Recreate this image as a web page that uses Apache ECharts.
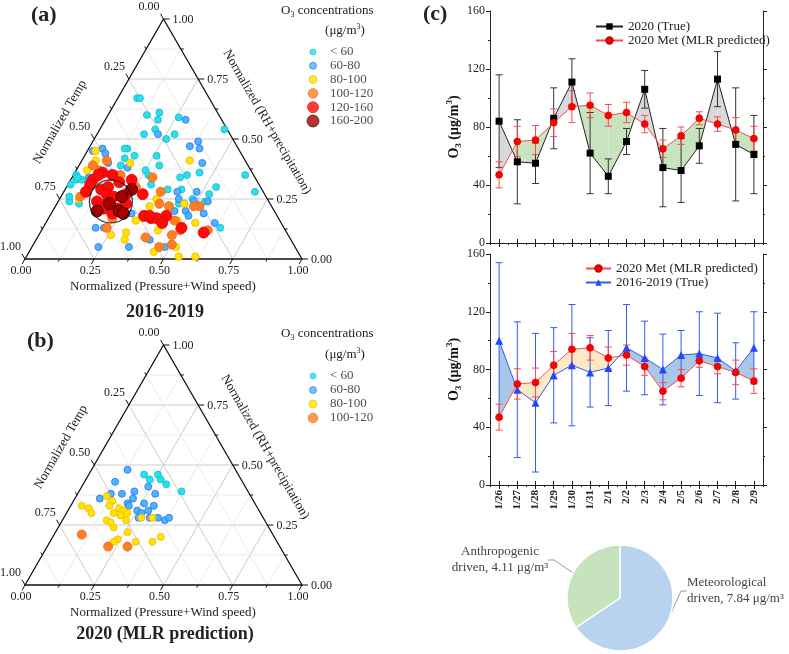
<!DOCTYPE html>
<html>
<head>
<meta charset="utf-8">
<script src="https://cdn.jsdelivr.net/npm/echarts@6/dist/echarts.min.js"></script>
<style>
html, body { margin: 0; padding: 0; background: #fff; }
#main { width: 789px; height: 654px; }
</style>
</head>
<body>
<div id="main"></div>
<script>
// ---------- data ----------
var classNamesA = ['< 60', '60-80', '80-100', '100-120', '120-160', '160-200'];
var classNamesB = ['< 60', '60-80', '80-100', '100-120'];
var ternaryTicks = ['0.00', '0.25', '0.50', '0.75', '1.00'];

// ternary points as [Pressure+Wind speed, RH+precipitation]; Temp = 1 - both
var a_lt60 = [[0.07,0.67],[0.08,0.67],[0.18,0.61],[0.19,0.58],[0.14,0.60],[0.26,0.59],[0.20,0.54],[0.17,0.52],[0.28,0.52],[0.26,0.50],[0.45,0.54],[0.26,0.43],[0.29,0.39],[0.25,0.37],[0.30,0.31],[0.39,0.34],[0.41,0.35],[0.45,0.36],[0.42,0.29],[0.37,0.29],[0.54,0.30],[0.53,0.27],[0.53,0.24],[0.62,0.35],[0.69,0.28],[0.44,0.23],[0.48,0.25],[0.64,0.13],[0.14,0.46],[0.13,0.46],[0.02,0.33],[0.01,0.35],[0.04,0.33],[0.04,0.24],[0.03,0.26],[0.08,0.23],[0.15,0.39],[0.15,0.42],[0.18,0.43],[0.27,0.35],[0.01,0.31],[0.02,0.34]];
var a_60_80 = [[0.29,0.58],[0.38,0.49],[0.36,0.47],[0.40,0.46],[0.44,0.40],[0.41,0.28],[0.48,0.28],[0.49,0.24],[0.46,0.23],[0.44,0.20],[0.48,0.20],[0.50,0.18],[0.55,0.19],[0.61,0.15],[0.54,0.24],[0.41,0.08],[0.48,0.05],[0.02,0.45],[0.05,0.46],[0.07,0.44],[0.10,0.40],[0.06,0.34],[0.18,0.38],[0.29,0.19],[0.22,0.13],[0.35,0.05],[0.24,0.05],[0.22,0.52],[0.43,0.25],[0.19,0.13]];
var a_80_100 = [[0.39,0.41],[0.35,0.25],[0.46,0.23],[0.34,0.17],[0.47,0.16],[0.42,0.12],[0.54,0.15],[0.45,0.03],[0.52,0.05],[0.61,0.01],[0.55,0.01],[0.04,0.37],[0.05,0.41],[0.18,0.40],[0.32,0.16],[0.31,0.11],[0.32,0.08],[0.26,0.10],[0.34,0.22],[0.07,0.25],[0.03,0.45]];
var a_100_120 = [[0.29,0.34],[0.35,0.28],[0.37,0.23],[0.41,0.22],[0.52,0.22],[0.46,0.16],[0.50,0.12],[0.48,0.10],[0.39,0.09],[0.50,0.06],[0.46,0.05],[0.60,0.12],[0.08,0.37],[0.15,0.35],[0.17,0.35],[0.23,0.13],[0.23,0.17],[0.07,0.26],[0.25,0.30],[0.50,0.22],[0.05,0.39],[0.09,0.41]];
var a_120_160 = [[0.29,0.27],[0.37,0.17],[0.39,0.17],[0.42,0.18],[0.42,0.15],[0.50,0.13],[0.59,0.11],[0.10,0.36],[0.14,0.35],[0.08,0.33],[0.08,0.31],[0.08,0.28],[0.13,0.29],[0.15,0.30],[0.18,0.32],[0.22,0.33],[0.23,0.27],[0.14,0.24],[0.18,0.21],[0.23,0.21],[0.25,0.23],[0.34,0.18],[0.36,0.18],[0.22,0.19],[0.16,0.27],[0.09,0.35],[0.19,0.26],[0.18,0.24]];
var a_160_200 = [[0.24,0.29],[0.22,0.26],[0.19,0.23],[0.16,0.20],[0.24,0.20],[0.26,0.19]];
var clusterCenter = [0.19, 0.24];

var b_lt60 = [[0.20,0.46],[0.25,0.46],[0.23,0.44],[0.27,0.44],[0.30,0.42],[0.37,0.39]];
var b_60_80 = [[0.13,0.48],[0.24,0.41],[0.11,0.43],[0.12,0.38],[0.16,0.38],[0.20,0.39],[0.09,0.36],[0.21,0.36],[0.26,0.34],[0.28,0.38],[0.20,0.34],[0.21,0.33],[0.30,0.33],[0.25,0.31],[0.29,0.31],[0.27,0.30],[0.27,0.28],[0.31,0.28],[0.34,0.28],[0.37,0.27],[0.38,0.28]];
var b_80_100 = [[0.04,0.33],[0.07,0.32],[0.09,0.30],[0.11,0.37],[0.14,0.35],[0.14,0.33],[0.18,0.32],[0.20,0.31],[0.17,0.30],[0.20,0.29],[0.22,0.30],[0.23,0.27],[0.28,0.28],[0.32,0.28],[0.16,0.27],[0.18,0.26],[0.20,0.24],[0.26,0.22],[0.24,0.19],[0.23,0.18],[0.31,0.18],[0.37,0.18],[0.39,0.20]];
var b_100_120 = [[0.10,0.21],[0.22,0.16],[0.29,0.16]];

var dates = ['1/26','1/27','1/28','1/29','1/30','1/31','2/1','2/2','2/3','2/4','2/5','2/6','2/7','2/8','2/9'];
var true2020 = [84, 56, 55, 86, 111, 62, 46, 70, 106, 52, 50, 67, 113, 68, 61];
var true2020Err = [32, 29, 14, 21, 16, 28, 12, 9, 13, 27, 22, 12, 19, 39, 27];
var met2020 = [47, 70, 71, 83, 94, 95, 88, 90, 82, 65, 74, 86, 82, 78, 72];
var met2020Err = [9, 10.5, 10, 9.5, 11, 8.5, 7.5, 7, 6, 6, 6, 4.5, 5, 8.5, 8.5];
var true1619 = [100, 66, 57, 76, 83, 78, 81, 95, 88, 80, 90, 91, 88, 79, 95];
var true1619Err = [54, 47, 48, 33, 42, 24, 26, 30, 25.5, 24.5, 17, 29, 31, 19.5, 25];

var pieNames = ['Meteorological', 'Anthropogenic'];
var pieValues = [7.84, 4.11];

// ---------- styles ----------
var serif = 'Liberation Serif, Times New Roman, serif';
var fills = ['#27e0e8', '#4db3ff', '#ffe400', '#ff7f24', '#ff0a0a', '#a80000'];
var edges = ['#19b8d8', '#2a72e8', '#f5b400', '#e8620f', '#e00000', '#1a0000'];
var sizesA = [7, 7, 7.5, 9, 11, 12];
var sizesB = [7, 7, 7, 9];
var legSizes = [6, 7, 8, 9.5, 11, 12];

var chart = echarts.init(document.getElementById('main'));

function toXY(p) { return [p[0] + p[1] / 2, p[1]]; }

function ternaryFrame(params, api) {
    var pt = function (P, R) { return api.coord([P + R / 2, R]); };
    var kids = [];
    var line = function (a, b, color, w) {
        kids.push({ type: 'line', shape: { x1: a[0], y1: a[1], x2: b[0], y2: b[1] }, style: { stroke: color, lineWidth: w } });
    };
    var text = function (s, x, y, align) {
        kids.push({ type: 'text', style: { text: s, x: x, y: y, align: align, textAlign: align, verticalAlign: 'middle', textVerticalAlign: 'middle', font: '12px ' + serif, fill: '#222' } });
    };
    var k, v;
    for (k = 1; k < 8; k++) {
        v = k / 8;
        var c = k % 2 ? '#ececec' : '#cccccc';
        line(pt(0, v), pt(1 - v, v), c, 1);
        line(pt(v, 0), pt(v, 1 - v), c, 1);
        line(pt(1 - v, 0), pt(0, 1 - v), c, 1);
    }
    kids.push({ type: 'polygon', shape: { points: [pt(0, 0), pt(1, 0), pt(0, 1)] }, style: { fill: 'none', stroke: '#111', lineWidth: 1.3 } });
    for (k = 0; k <= 8; k++) {
        v = k / 8;
        var len = k % 2 ? 3 : 6;
        var b = pt(v, 0), l = pt(0, 1 - v), r = pt(1 - v, v);
        line(b, [b[0] - 0.5 * len, b[1] + 0.866 * len], '#111', 1);
        line(l, [l[0] - 0.5 * len, l[1] - 0.866 * len], '#111', 1);
        line(r, [r[0] + len, r[1]], '#111', 1);
        if (k % 2 === 0) {
            var t = ternaryTicks[k / 2];
            text(t, b[0] - 4, b[1] + 12, 'center');
            text(t, l[0] - 4, l[1] - 12, 'right');
            text(t, r[0] + 9, r[1] + 1, 'left');
        }
    }
    return { type: 'group', children: kids };
}

function errorBars(color) {
    return function (params, api) {
        var lo = api.coord([api.value(0), api.value(1)]);
        var hi = api.coord([api.value(0), api.value(2)]);
        var w = 3.5, st = { stroke: color, lineWidth: 1 };
        return { type: 'group', children: [
            { type: 'line', shape: { x1: lo[0], y1: lo[1], x2: hi[0], y2: hi[1] }, style: st },
            { type: 'line', shape: { x1: lo[0] - w, y1: lo[1], x2: lo[0] + w, y2: lo[1] }, style: st },
            { type: 'line', shape: { x1: hi[0] - w, y1: hi[1], x2: hi[0] + w, y2: hi[1] }, style: st }
        ] };
    };
}

function fillBetween(upColor, downColor) {
    return function (params, api) {
        var i = api.value(0);
        var a0 = api.value(1), b0 = api.value(2), a1 = api.value(3), b1 = api.value(4);
        var A0 = api.coord([i, a0]), B0 = api.coord([i, b0]);
        var A1 = api.coord([i + 1, a1]), B1 = api.coord([i + 1, b1]);
        var d0 = a0 - b0, d1 = a1 - b1;
        var polys = [];
        if (d0 * d1 >= 0) {
            polys.push({ p: [A0, A1, B1, B0], up: d0 + d1 > 0 });
        } else {
            var t = d0 / (d0 - d1);
            var X = [A0[0] + t * (A1[0] - A0[0]), A0[1] + t * (A1[1] - A0[1])];
            polys.push({ p: [A0, X, B0], up: d0 > 0 });
            polys.push({ p: [X, A1, B1], up: d1 > 0 });
        }
        return { type: 'group', children: polys.map(function (q) {
            return { type: 'polygon', shape: { points: q.p }, style: { fill: q.up ? upColor : downColor, stroke: null } };
        }) };
    };
}

function pairs(a, b) {
    var out = [];
    for (var i = 0; i < a.length - 1; i++) out.push([i, a[i], b[i], a[i + 1], b[i + 1]]);
    return out;
}
function bars(v, e) { return v.map(function (y, i) { return [i, y - e[i], y + e[i]]; }); }

function ternarySeries(sets, sizes, axis) {
    var out = [{
        type: 'custom', xAxisIndex: axis, yAxisIndex: axis, data: [[0, 0]], renderItem: ternaryFrame,
        silent: true, z: 1, clip: false
    }];
    sets.forEach(function (d, k) {
        out.push({
            type: 'scatter', xAxisIndex: axis, yAxisIndex: axis, data: d.map(toXY),
            symbolSize: sizes[k], clip: false, z: 3 + k, silent: true,
            itemStyle: { color: fills[k], borderColor: edges[k], borderWidth: 0.8, opacity: 1 }
        });
    });
    return out;
}

function legendSeries(names, axis) {
    return [{
        type: 'scatter', xAxisIndex: axis, yAxisIndex: axis, clip: false, silent: true,
        data: names.map(function (n, i) {
            return { value: [0, i], symbolSize: legSizes[i], itemStyle: { color: fills[i], borderColor: edges[i], borderWidth: 0.8 } };
        })
    }, {
        type: 'scatter', xAxisIndex: axis, yAxisIndex: axis, clip: false, silent: true, symbolSize: 0,
        data: names.map(function (n, i) { return { value: [1, i], name: n }; }),
        label: { show: true, position: 'right', distance: 0, formatter: '{b}', fontFamily: serif, fontSize: 13, color: '#222' }
    }];
}

var hiddenVal = function (g, min, max, inv) { return { type: 'value', gridIndex: g, min: min, max: max, show: false, inverse: !!inv }; };

var axisLineBlack = { show: true, lineStyle: { color: '#222', width: 1 } };
function yLine(g, pos, labels) {
    return {
        type: 'value', gridIndex: g, position: pos, min: 0, max: 160, interval: 40,
        axisLine: axisLineBlack, splitLine: { show: false },
        axisTick: { show: true, length: 4, lineStyle: { color: '#222' } },
        minorTick: { show: true, splitNumber: 2, length: 2, lineStyle: { color: '#222' } },
        axisLabel: { show: labels, fontFamily: serif, fontSize: 12, color: '#222', margin: 5 },
        name: labels ? '{b|O}{s|3}{b| (μg/m}{p|3}{b|)}' : '', nameLocation: 'middle', nameGap: 27,
        nameTextStyle: { rich: {
            b: { fontFamily: serif, fontWeight: 'bold', fontSize: 14, lineHeight: 18, color: '#111' },
            s: { fontFamily: serif, fontWeight: 'bold', fontSize: 9, lineHeight: 9, verticalAlign: 'bottom', color: '#111' },
            p: { fontFamily: serif, fontWeight: 'bold', fontSize: 9, lineHeight: 9, verticalAlign: 'top', color: '#111' }
        } }
    };
}
function xCat(g, pos, labels, centers) {
    return {
        type: 'category', gridIndex: g, position: pos, data: dates, boundaryGap: true,
        axisLine: centers ? axisLineBlack : { show: false },
        axisTick: { show: true, alignWithLabel: centers, interval: 0, length: centers ? 4 : 2, lineStyle: { color: '#222' } },
        axisLabel: { show: labels, interval: 0, rotate: 90, fontFamily: serif, fontSize: 11, fontWeight: 'bold', color: '#222', margin: 5 },
        splitLine: { show: false }
    };
}

var richTitle = {
    n: { fontFamily: serif, fontSize: 13, lineHeight: 16, fill: '#222', color: '#222' },
    s: { fontFamily: serif, fontSize: 8, lineHeight: 8, verticalAlign: 'bottom', fill: '#222', color: '#222' }
};
var richUnit = {
    n: richTitle.n,
    s: { fontFamily: serif, fontSize: 8, lineHeight: 8, verticalAlign: 'top', fill: '#222', color: '#222' }
};
function gText(s, x, y, font, align, rot, rich) {
    var el = { type: 'text', x: x, y: y, rotation: rot || 0, silent: true,
        style: { text: s, font: font, fill: '#222', align: align, textAlign: align, verticalAlign: 'middle', textVerticalAlign: 'middle' } };
    if (rich) el.style.rich = rich;
    return el;
}
var f13 = '13px ' + serif;
var legendText = { fontFamily: serif, fontSize: 13, color: '#222' };

var option = {
    animation: false,
    backgroundColor: '#fff',
    textStyle: { fontFamily: serif },
    grid: [
        { left: 25, top: 19, width: 277, height: 240 },
        { left: 25, top: 345, width: 277, height: 240 },
        { left: 313, top: 52, width: 17, height: 69 },
        { left: 313, top: 376, width: 17, height: 42 },
        { left: 490, top: 11, width: 273, height: 232 },
        { left: 490, top: 254, width: 273, height: 231 }
    ],
    xAxis: [
        hiddenVal(0, 0, 1), hiddenVal(1, 0, 1), hiddenVal(2, 0, 1), hiddenVal(3, 0, 1),
        xCat(4, 'bottom', false, true), xCat(4, 'top', false, true),
        xCat(5, 'bottom', true, true), xCat(5, 'top', false, true),
        xCat(4, 'bottom', false, false), xCat(5, 'bottom', false, false)
    ],
    yAxis: [
        hiddenVal(0, 0, 1), hiddenVal(1, 0, 1), hiddenVal(2, 0, 5, true), hiddenVal(3, 0, 3, true),
        yLine(4, 'left', true), yLine(4, 'right', false),
        yLine(5, 'left', true), yLine(5, 'right', false)
    ],
    legend: [{
        data: ['2020 (True)', '2020 Met (MLR predicted)'], left: 595, top: 20, orient: 'vertical',
        itemWidth: 27, itemHeight: 8, itemGap: 1, selectedMode: false, padding: 0,
        textStyle: legendText
    }, {
        data: ['2020 Met (MLR predicted)', '2016-2019 (True)'], left: 585, top: 262, orient: 'vertical',
        itemWidth: 25, itemHeight: 8, itemGap: 1, selectedMode: false, padding: 0,
        textStyle: legendText
    }],
    graphic: [
        gText('(a)', 31, 15, 'bold 22px ' + serif, 'left'),
        gText('(b)', 27, 341, 'bold 22px ' + serif, 'left'),
        gText('(c)', 423, 14, 'bold 22px ' + serif, 'left'),
        gText('2016-2019', 165, 312, 'bold 18px ' + serif, 'center'),
        gText('2020 (MLR prediction)', 165, 634, 'bold 18px ' + serif, 'center'),
        gText('Normalized (Pressure+Wind speed)', 163, 287, f13, 'center'),
        gText('Normalized (Pressure+Wind speed)', 163, 613, f13, 'center'),
        gText('Normalized Temp', 60, 122, f13, 'center', Math.PI / 3),
        gText('Normalized Temp', 61, 447, f13, 'center', Math.PI / 3),
        gText('Normalized (RH+precipitation)', 267, 122, f13, 'center', -Math.PI / 3),
        gText('Normalized (RH+precipitation)', 265, 447, f13, 'center', -Math.PI / 3),
        gText('{n|O}{s|3}{n| concentrations}', 281, 11, f13, 'left', 0, richTitle),
        gText('{n|(μg/m}{s|3}{n|)}', 345, 31, f13, 'center', 0, richUnit),
        gText('{n|O}{s|3}{n| concentrations}', 281, 334, f13, 'left', 0, richTitle),
        gText('{n|(μg/m}{s|3}{n|)}', 345, 355, f13, 'center', 0, richUnit)
    ],
    series: [].concat(
        ternarySeries([a_lt60, a_60_80, a_80_100, a_100_120, a_120_160, a_160_200], sizesA, 0),
        [{
            type: 'scatter', xAxisIndex: 0, yAxisIndex: 0, data: [toXY(clusterCenter)], symbolSize: 43,
            clip: false, silent: true, z: 20,
            itemStyle: { color: 'rgba(0,0,0,0)', borderColor: '#111', borderWidth: 1.3 }
        }],
        ternarySeries([b_lt60, b_60_80, b_80_100, b_100_120], sizesB, 1),
        legendSeries(classNamesA, 2),
        legendSeries(classNamesB, 3),
        [
            // top panel: 2020 true vs MLR predicted
            { type: 'custom', xAxisIndex: 4, yAxisIndex: 4, data: pairs(true2020, met2020), renderItem: fillBetween('#d9d9d9', '#c8e4bf'), z: 1, silent: true, encode: { x: 0, y: 1 } },
            { type: 'custom', xAxisIndex: 4, yAxisIndex: 4, data: bars(true2020, true2020Err), renderItem: errorBars('#333'), z: 2, silent: true, encode: { x: 0, y: [1, 2] } },
            { type: 'custom', xAxisIndex: 4, yAxisIndex: 4, data: bars(met2020, met2020Err), renderItem: errorBars('#ff4a4a'), z: 2, silent: true, encode: { x: 0, y: [1, 2] } },
            { name: '2020 (True)', type: 'line', xAxisIndex: 4, yAxisIndex: 4, data: true2020, symbol: 'rect', symbolSize: 7, z: 4,
              lineStyle: { color: '#222', width: 1 }, itemStyle: { color: '#000' } },
            { name: '2020 Met (MLR predicted)', type: 'line', xAxisIndex: 4, yAxisIndex: 4, data: met2020, symbol: 'circle', symbolSize: 7, z: 5,
              lineStyle: { color: '#ff4a4a', width: 1 }, itemStyle: { color: '#ff0000', borderColor: '#d00000', borderWidth: 0.6 } },
            // bottom panel: MLR predicted vs 2016-2019 true
            { type: 'custom', xAxisIndex: 6, yAxisIndex: 6, data: pairs(true1619, met2020), renderItem: fillBetween('#a9c8e8', '#fde9c4'), z: 1, silent: true, encode: { x: 0, y: 1 } },
            { type: 'custom', xAxisIndex: 6, yAxisIndex: 6, data: bars(true1619, true1619Err), renderItem: errorBars('#2f5cf0'), z: 2, silent: true, encode: { x: 0, y: [1, 2] } },
            { type: 'custom', xAxisIndex: 6, yAxisIndex: 6, data: bars(met2020, met2020Err), renderItem: errorBars('#ff4a4a'), z: 2, silent: true, encode: { x: 0, y: [1, 2] } },
            { name: '2020 Met (MLR predicted)', type: 'line', xAxisIndex: 6, yAxisIndex: 6, data: met2020, symbol: 'circle', symbolSize: 7, z: 5,
              lineStyle: { color: '#ff4a4a', width: 1 }, itemStyle: { color: '#ff0000', borderColor: '#d00000', borderWidth: 0.6 } },
            { name: '2016-2019 (True)', type: 'line', xAxisIndex: 6, yAxisIndex: 6, data: true1619, symbol: 'triangle', symbolSize: 8, z: 4,
              lineStyle: { color: '#2f5cf0', width: 1 }, itemStyle: { color: '#1f48ff' } },
            // pie
            {
                type: 'pie', center: [620, 598], radius: 53, startAngle: 90, clockwise: true, silent: true,
                data: pieNames.map(function (n, i) { return { name: n, value: pieValues[i] }; }),
                color: ['#b7d3ee', '#c6e3bd'],
                itemStyle: { borderColor: '#fff', borderWidth: 1.5 },
                label: {
                    show: true, fontFamily: serif, fontSize: 13, lineHeight: 16, color: '#444', overflow: 'none',
                    formatter: function (p) { return p.name + '\ndriven, ' + p.value.toFixed(2) + ' μg/m³'; }
                },
                labelLine: { show: true, length: 10, length2: 6, lineStyle: { color: '#999', width: 1 } },
                labelLayout: function (p) {
                    return p.dataIndex === 0
                        ? { x: 687, y: 591, align: 'left', verticalAlign: 'middle' }
                        : { x: 500, y: 560, align: 'center', verticalAlign: 'middle' };
                }
            }
        ]
    )
};

chart.setOption(option);
</script>
</body>
</html>
